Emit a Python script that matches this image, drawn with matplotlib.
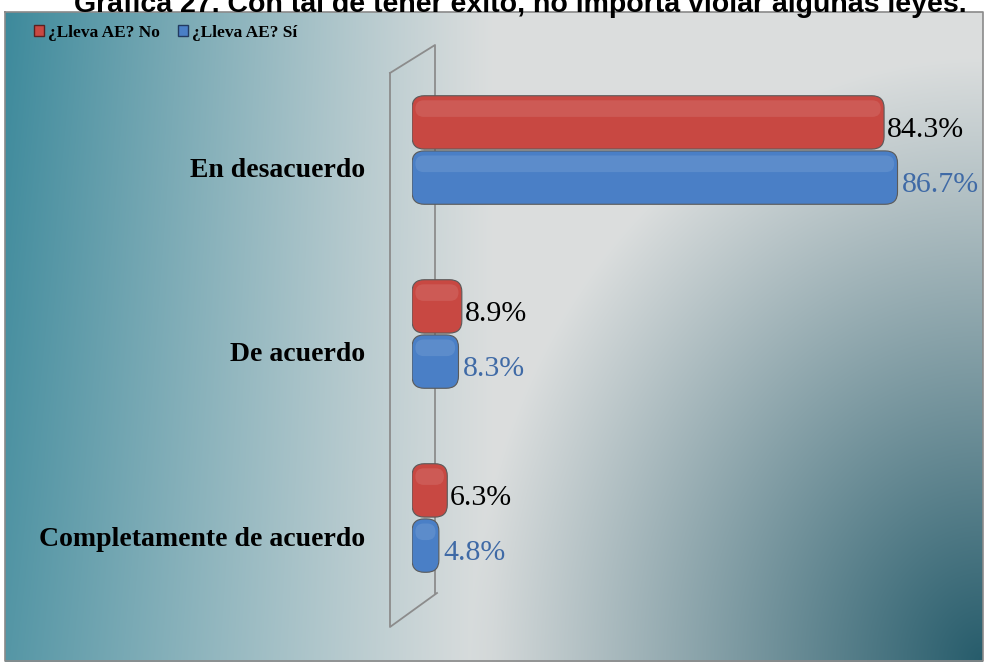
import numpy as np
import matplotlib.pyplot as plt
from matplotlib.patches import FancyBboxPatch, Patch
from matplotlib.transforms import ScaledTranslation

# data
categorias = ['En desacuerdo', 'De acuerdo', 'Completamente de acuerdo']
no_ae = [84.3, 8.9, 6.3]
si_ae = [86.7, 8.3, 4.8]
series = ['¿Lleva AE? No', '¿Lleva AE? Sí']
titulo = 'Gráfica 27. Con tal de tener éxito, no importa violar algunas leyes.'

rojo = '#c84842'
azul = '#4a7fc6'
col_txt_azul = '#3f6aa6'

fig = plt.figure(figsize=(9.84, 6.62), dpi=100)
fig.patch.set_facecolor('white')

# background gradient panel (pixel coords)
bg = fig.add_axes([0, 0, 1, 1])
bg.set_xlim(0, 984)
bg.set_ylim(662, 0)
bg.axis('off')
W, H = 978, 650
xx, yy = np.meshgrid(np.linspace(0, 1, W), np.linspace(0, 1, H))
claro = np.array([0.86, 0.87, 0.87])
teal = np.array([0.24, 0.54, 0.61])
oscuro = np.array([0.15, 0.36, 0.42])
w1 = np.clip(1 - xx / 0.5, 0, 1) ** 1.1 * (0.85 + 0.15 * (1 - yy))
d = np.sqrt(((1 - xx) / 0.525) ** 2 + ((1 - yy) / 0.93) ** 2)
w2 = np.clip(1 - d, 0, 1)
img = claro * (1 - w1[..., None]) + teal * w1[..., None]
img = img * (1 - w2[..., None]) + oscuro * w2[..., None]
bg.imshow(img, extent=(5, 983, 662, 12), aspect='auto', zorder=0)
bg.plot([5, 983, 983, 5, 5], [12, 12, 661, 661, 12], color='#8a8a8a', lw=1.2, zorder=1)

# back wall of the 3d chart
bg.plot([390, 435, 435], [73, 45, 593], color='#8c8c8c', lw=1.3, zorder=2)
bg.plot([390, 390, 437], [73, 627, 593], color='#8c8c8c', lw=1.3, zorder=2)

# title is cut at the top edge in the original
fig.text(520 / 984, 1 - 12 / 662, titulo, ha='center', va='baseline',
         fontsize=20.5, fontweight='bold', family='Liberation Sans')

# bar axes
ax = fig.add_axes([412 / 984, 1 - 630 / 662, 572 / 984, 570 / 662])
ax.patch.set_alpha(0)
ax.set_xlim(0, 572 / 5.6)
ax.set_ylim(2 + 112 / 184, -90 / 184)
for s in ax.spines.values():
    s.set_visible(False)
ax.set_xticks([])

y = np.arange(len(categorias))
h = 0.3
b1 = ax.barh(y - h / 2, no_ae, height=h, color=rojo)
b2 = ax.barh(y + h / 2, si_ae, height=h, color=azul)

def redondear(bars, color):
    for r in bars:
        x0, y0 = r.get_x(), r.get_y()
        w, hh = r.get_width(), r.get_height()
        r.set_visible(False)
        p = FancyBboxPatch((x0, y0 + 0.005), w, hh - 0.01,
                           boxstyle='round,pad=0,rounding_size=2.2',
                           mutation_aspect=0.03, fc=color, ec='#5a5a5a',
                           lw=0.8, zorder=3)
        ax.add_patch(p)
        hl = FancyBboxPatch((x0 + 0.6, y0 + 0.03), max(w - 1.2, 0.5), hh * 0.3,
                            boxstyle='round,pad=0,rounding_size=1.5',
                            mutation_aspect=0.03, fc='white', ec='none',
                            alpha=0.1, zorder=4)
        ax.add_patch(hl)

redondear(b1, rojo)
redondear(b2, azul)

for v, yi in zip(no_ae, y):
    ax.text(v + 0.5, yi - h / 2 + 0.04, f'{v:.1f}%', va='center', ha='left',
            fontsize=21.5, family='Liberation Serif', color='black')
for v, yi in zip(si_ae, y):
    ax.text(v + 0.8, yi + h / 2 + 0.04, f'{v:.1f}%', va='center', ha='left',
            fontsize=21.5, family='Liberation Serif', color=col_txt_azul)

ax.set_yticks(y)
ax.set_yticklabels(categorias, fontsize=20, fontweight='bold', family='Liberation Serif')
ax.tick_params(axis='y', length=0, pad=34)
for lab in ax.get_yticklabels():
    lab.set_transform(lab.get_transform() + ScaledTranslation(0, -0.18, fig.dpi_scale_trans))

handles = [Patch(fc=rojo, ec='#5a2020'), Patch(fc=azul, ec='#223a60')]
fig.legend(handles, series, loc='center left', bbox_to_anchor=(18 / 984, 1 - 33 / 662),
           ncol=2, frameon=False, handlelength=0.6, handleheight=0.6,
           handletextpad=0.25, columnspacing=1.0,
           prop={'family': 'Liberation Serif', 'weight': 'bold', 'size': 12.5})

fig.savefig('out.png', dpi=100)
